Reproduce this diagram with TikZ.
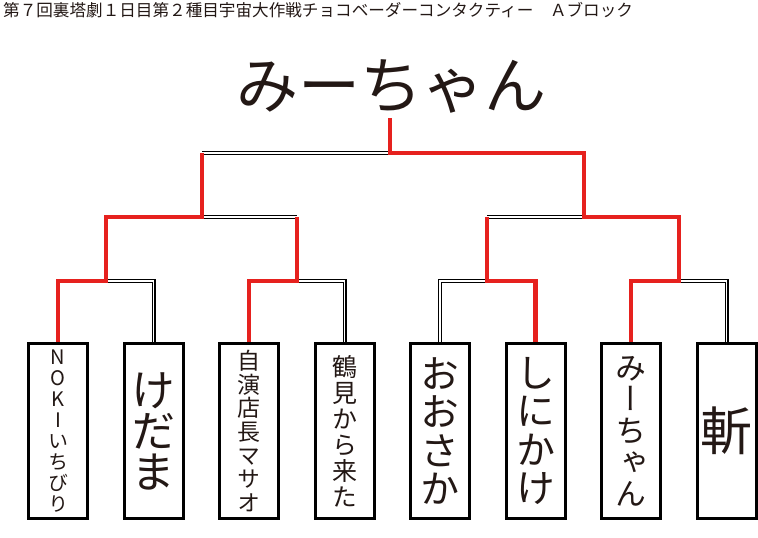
\documentclass[tikz,border=0pt]{standalone}
\usepackage{fontspec}
\newfontfamily\jp{Noto Sans CJK JP}
\newfontfamily\jpv[RawFeature=+vert]{Noto Sans CJK JP}
\lineskiplimit=-50pt
\definecolor{ink}{HTML}{231815}
\definecolor{winred}{HTML}{E6211E}
\tikzset{
  entry/.style={draw=black,line width=3pt,minimum width=59pt,minimum height=175pt,
    inner sep=0pt,align=center,text=ink},
  lose/.style={draw=black,line width=1.1pt,double=white,double distance=1.8pt},
  win/.style={draw=winred,line width=4.5pt,line join=miter},
}
\newcommand{\vsz}[2]{\jpv\fontsize{#1}{#2}\selectfont}
\begin{document}
\begin{tikzpicture}[x=1pt,y=-1pt]
    \useasboundingbox (0,0) rectangle (758,538);
    \begin{scope}
      \node[anchor=west,text=ink,inner sep=0pt,font=\jp\fontsize{16.6}{18}\selectfont] (title) at (3,10)
        {第７回裏塔劇１日目第２種目宇宙大作戦チョコベーダーコンタクティー　Ａブロック};
      \node[text=ink,inner sep=0pt,font=\jp\fontsize{62}{64}\selectfont] (champ) at (391,86) {みーちゃん};

      % players
      \node[entry,font=\vsz{20}{21}] (p1) at (58,431) {N\\O\\K\\I\\い\\ち\\び\\り};
      \node[entry,font=\vsz{44}{41}] (p2) at (153.5,431) {け\\だ\\ま};
      \node[entry,font=\vsz{23}{23.6}] (p3) at (249,431) {自\\演\\店\\長\\マ\\サ\\オ};
      \node[entry,font=\vsz{25}{26}] (p4) at (344.5,431) {鶴\\見\\か\\ら\\来\\た};
      \node[entry,font=\vsz{39}{38.5}] (p5) at (440,431) {お\\お\\さ\\か};
      \node[entry,font=\vsz{39}{38.5}] (p6) at (535.5,431) {し\\に\\か\\け};
      \node[entry,font=\vsz{31}{31.5}] (p7) at (631,431) {み\\ー\\ち\\ゃ\\ん};
      \node[entry,font=\vsz{52}{54}] (p8) at (726.5,431) {斬};

      % bracket joints
      \coordinate (r1) at (106,281);
      \coordinate (r2) at (297,281);
      \coordinate (r3) at (487,281);
      \coordinate (r4) at (679,281);
      \coordinate (s1) at (202,217);
      \coordinate (s2) at (584,217);
      \coordinate (f) at (390,153);
      \coordinate (c) at (390,118);

      \draw[lose] (p2.north) |- (r1);
      \draw[lose] (p4.north) |- (r2);
      \draw[lose] (p5.north) |- (r3);
      \draw[lose] (p8.north) |- (r4);
      \draw[lose] (s1) -- (s1 -| r2);
      \draw[lose] (r3 |- s2) -- (s2);
      \draw[lose] (f) -- (f -| s1);

      \draw[win] (p1.north) |- (r1) |- (s1) -- (s1 |- f);
      \draw[win] (p3.north) |- (r2) -- (r2 |- s1);
      \draw[win] (p6.north) |- (r3) -- (r3 |- s2);
      \draw[win] (p7.north) |- (r4) |- (s2) |- (f) -- (c);
    \end{scope}
\end{tikzpicture}
\end{document}
